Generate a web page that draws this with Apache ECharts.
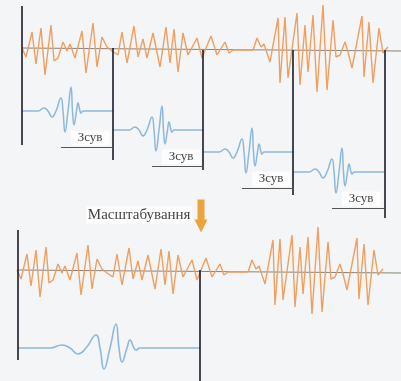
<!DOCTYPE html>
<html>
<head>
<meta charset="utf-8">
<script src="https://cdn.jsdelivr.net/npm/echarts@6/dist/echarts.min.js"></script>
<style>
  html, body { margin: 0; padding: 0; background: #f3f5f6; }
  #chart { width: 401px; height: 381px; }
</style>
</head>
<body>
<div id="chart"></div>
<script>
// signal trace: position along the trace, amplitude above the zero line
const signalT = [0, 4, 10, 14, 19, 23, 29, 32, 36, 41, 45, 48, 53, 60, 64, 71, 75, 80, 85, 90,
  96, 100, 105, 112, 116, 121, 125, 131, 138, 144, 148, 152, 156, 161, 166, 175, 180, 189, 195, 203,
  207, 211, 231, 235, 239, 242, 248, 256, 258, 263, 266, 275, 278, 283, 286, 291, 295, 301, 305, 311,
  314, 318, 323, 326, 330, 340, 342, 347, 351, 357, 361, 366];
const signalA = [0, -9, 16, -16, 20, -27, 23, -13, -10, 6, -3, 4, -10, 17, -25, 25, -19, 11, 1, -3,
  -7, 16, -15, 22, -9, 9, -10, 15, -19, 21, -15, 19, -24, 15, -7, 10, -10, 12, -7, 6,
  -5, -2, -2, 10, 1, 4, -14, 30, -35, 31, -30, 35, -37, 23, -24, 33, -44, 43, -42, 28,
  -9, -7, 6, -4, -20, 32, -29, 26, -35, 20, -5, 1];

// mother wavelet inside its window
const waveletT = [0, 16, 22, 26, 30, 34, 39, 41, 43, 46, 49, 50.5, 52, 54.5, 56, 58, 59, 61, 91];
const waveletA = [0, 0, 3, 0, -6, 0, 13, 0, -21, 0, 24, 0, -14, 0, 8, 0, -2, 0, 0];

// window edges the wavelet is shifted to (signal units)
const shiftEdges = [0, 91, 181, 271, 363];
const scaleFactor = 2;

const shiftText = "Зсув";
const scaleText = "Масштабування";

// layout (pixels)
const topSig = { x0: 22, base: 48, tilt: 3 };
const lowSig = { x0: 17, base: 270, tilt: 3 };
const waveBase = [111, 130, 152, 172];
const lowWave = { x0: 18, base: 348 };
const edgeTop = [6, 48, 50, 50, 50];
const edgeBottom = [145, 160, 170, 195, 218];
const lowEdges = [[230, 360], [270, 381]];

const ORANGE = "#f09f60";
const BLUE = "#8db8de";
const DARK = "#1b1b28";
const CLEAR = "rgba(0,0,0,0)";

const chart = echarts.init(document.getElementById("chart"));

const sigData = (o) => signalT.map((t, i) => [o.x0 + t, o.base - signalA[i]]);
const waveData = (x0, base, k) => waveletT.map((t, i) => [x0 + t * k, base - waveletA[i]]);
const winW = waveletT[waveletT.length - 1];

const vLines = [];
shiftEdges.forEach((e, i) => {
  const x = topSig.x0 + e;
  vLines.push([{ coord: [x, edgeTop[i]] }, { coord: [x, edgeBottom[i]] }]);
});
lowEdges.forEach((r, i) => {
  const x = lowWave.x0 + i * winW * scaleFactor;
  vLines.push([{ coord: [x, r[0]] }, { coord: [x, r[1]] }]);
});

const underLines = [];
const labelPts = [];
waveBase.forEach((b, i) => {
  const end = topSig.x0 + shiftEdges[i] + winW;
  underLines.push([{ coord: [end - 52, b + 36] }, { coord: [end, b + 36] }]);
  labelPts.push([end - 3, b + 27]);
});

const series = [
  {
    type: "line", symbol: "none", silent: true, z: 1,
    data: [[topSig.x0, topSig.base], [401, topSig.base + topSig.tilt]],
    lineStyle: { color: "#8a8479", width: 1 },
    markLine: {
      silent: true, symbol: ["none", "none"], label: { show: false },
      lineStyle: { color: DARK, width: 1.6, type: "solid" },
      data: vLines,
    },
  },
  {
    type: "line", symbol: "none", silent: true, z: 1,
    data: [[lowSig.x0, lowSig.base], [401, lowSig.base + lowSig.tilt]],
    lineStyle: { color: "#8a8479", width: 1 },
    markLine: {
      silent: true, symbol: ["none", "none"], label: { show: false },
      lineStyle: { color: "#555", width: 1, type: "solid" },
      data: underLines,
    },
  },
  {
    type: "line", symbol: "none", silent: true, z: 3,
    data: sigData(topSig), lineStyle: { color: ORANGE, width: 1.4 },
  },
  {
    type: "line", symbol: "none", silent: true, z: 3,
    data: sigData(lowSig), lineStyle: { color: ORANGE, width: 1.4 },
  },
];

waveBase.forEach((b, i) => {
  series.push({
    type: "line", symbol: "none", silent: true, smooth: 0.5, z: 3,
    data: waveData(topSig.x0 + shiftEdges[i], b, 1),
    lineStyle: { color: BLUE, width: 1.5 },
  });
});
series.push({
  type: "line", symbol: "none", silent: true, smooth: 0.5, z: 3,
  data: waveData(lowWave.x0, lowWave.base, scaleFactor),
  lineStyle: { color: BLUE, width: 1.6 },
});

series.push({
  type: "scatter", silent: true, z: 5, symbolSize: 1,
  itemStyle: { color: CLEAR },
  data: labelPts,
  label: {
    show: true, position: "left", distance: 0, formatter: shiftText,
    fontFamily: "Liberation Serif", fontSize: 13, color: "#111",
    backgroundColor: "#ffffff", padding: [1, 7, 1, 7],
  },
});
series.push({
  type: "scatter", silent: true, z: 5, symbolSize: 1,
  itemStyle: { color: CLEAR },
  data: [[193, 215]],
  label: {
    show: true, position: "left", distance: 0, formatter: scaleText,
    fontFamily: "Liberation Serif", fontSize: 15, color: "#111",
    backgroundColor: "#ffffff", padding: [1, 2, 1, 2],
  },
});
series.push({
  type: "scatter", silent: true, z: 5,
  symbol: "path://M3,0 L10,0 L10,20 L13,20 L6.5,33 L0,20 L3,20 Z",
  symbolSize: [13, 33],
  itemStyle: { color: "#eba43c", opacity: 1 },
  data: [[201, 216]],
});

chart.setOption({
  animation: false,
  backgroundColor: "#f3f5f6",
  grid: { left: 0, right: 0, top: 0, bottom: 0 },
  xAxis: { type: "value", min: 0, max: 401, show: false },
  yAxis: { type: "value", min: 0, max: 381, inverse: true, show: false },
  series: series,
});
</script>
</body>
</html>
